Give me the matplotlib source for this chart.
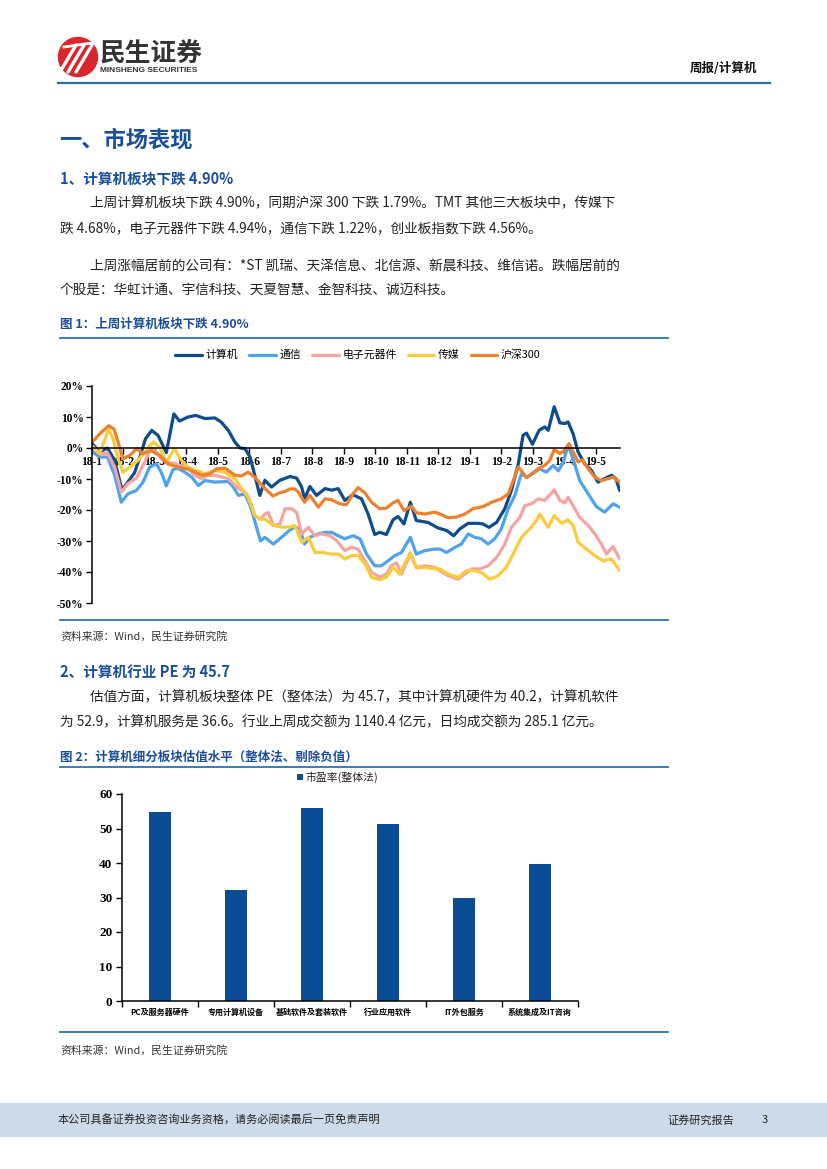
import matplotlib
matplotlib.use("Agg")
import matplotlib.pyplot as plt
from matplotlib.patches import Rectangle, Circle
from matplotlib.lines import Line2D

plt.rcParams['font.family'] = ['Noto Sans CJK SC', 'DejaVu Sans']
plt.rcParams['axes.unicode_minus'] = False

# ---------------- data ----------------
month_labels = ['18-1', '18-2', '18-3', '18-4', '18-5', '18-6', '18-7', '18-8', '18-9',
                '18-10', '18-11', '18-12', '19-1', '19-2', '19-3', '19-4', '19-5']
yticks_pct = [20, 10, 0, -10, -20, -30, -40, -50]

series_names = ['计算机', '通信', '电子元器件', '传媒', '沪深300']

jsj_x = [0.00,0.24,0.49,0.72,0.95,1.14,1.35,1.55,1.70,1.90,2.10,2.36,2.60,2.78,3.05,3.30,3.59,3.90,4.10,4.33,
         4.54,4.70,4.86,5.02,5.17,5.33,5.49,5.70,5.97,6.29,6.50,6.66,6.75,6.92,7.13,7.40,7.61,7.82,8.03,8.29,
         8.56,8.77,8.98,9.14,9.35,9.56,9.72,9.91,10.11,10.30,10.67,10.99,11.26,11.49,11.68,11.95,12.26,12.42,
         12.61,12.85,13.11,13.32,13.54,13.69,13.80,13.99,14.20,14.38,14.49,14.68,14.86,15.02,15.12,15.28,15.44,
         15.65,15.86,16.07,16.28,16.50,16.64,16.76]
jsj_y = [1.5,-1.3,0.0,-4.0,-13.5,-11.0,-8.0,-2.0,3.0,5.7,4.0,-1.5,11.0,8.7,10.0,10.5,9.5,9.7,8.4,5.7,
         1.9,0.0,-0.2,-2.9,-8.8,-15.3,-10.4,-12.6,-10.4,-9.2,-9.7,-12.6,-16.4,-12.4,-15.3,-13.1,-13.6,-13.1,-16.9,-15.1,
         -16.4,-21.3,-27.9,-27.2,-27.9,-23.2,-22.1,-24.5,-17.5,-23.4,-24.0,-25.8,-26.6,-28.3,-26.1,-24.3,-24.3,-24.5,
         -25.6,-24.0,-19.6,-13.7,-5.1,4.1,4.8,1.2,5.7,6.8,5.7,13.3,8.1,7.9,8.4,4.6,-1.3,
         -5.1,-7.2,-11.0,-9.9,-8.8,-9.9,-13.7]

tx_x = [0.03,0.24,0.49,0.72,0.93,1.14,1.41,1.62,1.83,2.04,2.20,2.36,2.57,2.73,2.95,3.17,3.38,3.59,3.90,4.33,
        4.49,4.65,4.86,5.02,5.12,5.35,5.49,5.76,6.02,6.29,6.44,6.60,6.75,6.92,7.19,7.40,7.61,7.82,8.03,8.29,
        8.51,8.72,8.98,9.19,9.40,9.62,9.83,10.11,10.30,10.57,10.89,11.05,11.26,11.52,11.73,11.95,12.15,12.37,
        12.58,12.79,13.00,13.22,13.43,13.64,13.82,14.00,14.22,14.43,14.65,14.81,14.97,15.12,15.28,15.49,15.76,
        16.02,16.28,16.55,16.76]
tx_y = [-1.3,-2.9,-2.9,-8.8,-17.5,-14.8,-13.7,-11.0,-6.2,-5.1,-7.8,-12.2,-7.0,-6.5,-7.8,-9.4,-12.1,-10.5,-11.0,-10.8,
        -12.6,-15.3,-14.8,-18.5,-21.8,-30.0,-28.8,-31.0,-28.8,-26.4,-25.5,-26.0,-31.0,-28.8,-27.7,-27.2,-27.2,-28.3,-29.3,-28.3,
        -29.3,-34.2,-38.0,-38.0,-36.4,-34.7,-33.7,-28.8,-34.2,-33.1,-32.6,-32.6,-33.7,-32.1,-31.0,-27.7,-28.8,-29.3,
        -31.0,-29.3,-26.1,-19.6,-15.3,-8.3,-9.4,-8.3,-6.7,-7.8,-5.6,-7.4,-4.5,0.9,-3.5,-10.5,-14.8,
        -18.9,-20.7,-18.0,-19.1]

dz_x = [0.03,0.30,0.49,0.72,0.93,1.14,1.41,1.67,1.88,2.04,2.25,2.41,2.68,3.05,3.27,3.48,3.69,3.90,4.33,4.60,
        4.75,4.91,5.07,5.17,5.35,5.49,5.60,5.76,5.97,6.13,6.34,6.50,6.66,6.87,7.08,7.29,7.56,7.77,8.03,8.24,
        8.45,8.67,8.88,9.14,9.35,9.51,9.67,9.83,10.11,10.30,10.57,10.89,11.05,11.31,11.63,11.84,12.05,12.32,
        12.58,12.85,13.11,13.32,13.59,13.75,13.96,14.17,14.38,14.68,14.86,15.02,15.12,15.28,15.49,15.76,15.97,
        16.18,16.34,16.55,16.76]
dz_y = [0.3,-2.2,-1.5,-6.2,-14.2,-11.5,-9.7,-4.6,0.0,-1.3,-4.0,-4.6,-5.1,-6.7,-8.8,-9.9,-8.8,-8.8,-9.9,-12.6,
        -13.7,-14.8,-18.5,-21.8,-23.0,-21.3,-20.8,-25.0,-24.5,-19.6,-19.6,-20.8,-27.7,-25.6,-28.3,-27.7,-28.3,-29.9,-33.1,-32.0,
        -32.6,-36.4,-40.1,-41.7,-40.7,-38.0,-37.0,-40.7,-34.2,-38.5,-38.0,-38.5,-39.6,-41.2,-42.3,-40.7,-39.0,-39.0,
        -38.0,-35.3,-31.0,-25.6,-22.4,-18.6,-18.0,-16.4,-16.9,-13.5,-16.9,-17.7,-15.9,-18.6,-22.4,-25.0,-27.7,
        -31.0,-34.2,-31.8,-35.8]

cm_x = [0.03,0.24,0.53,0.67,0.83,0.98,1.20,1.46,1.67,1.94,2.15,2.36,2.62,2.84,3.05,3.27,3.59,3.90,4.22,4.54,
        4.75,4.96,5.17,5.35,5.49,5.76,6.02,6.29,6.44,6.66,6.87,7.08,7.35,7.56,7.82,8.03,8.24,8.45,8.67,8.88,
        9.14,9.35,9.56,9.77,10.11,10.30,10.57,10.89,11.05,11.31,11.63,11.89,12.10,12.37,12.63,12.90,13.16,13.43,
        13.64,13.90,14.12,14.22,14.49,14.68,14.91,15.12,15.28,15.44,15.70,15.97,16.23,16.50,16.76]
cm_y = [0.5,-1.8,6.1,2.9,-3.5,-7.8,-6.2,-4.0,-1.3,1.9,0.3,-4.6,-0.2,-4.0,-6.2,-7.2,-8.3,-7.2,-7.8,-9.9,
        -13.1,-15.8,-21.8,-23.0,-22.9,-25.0,-25.5,-25.5,-25.0,-30.4,-28.8,-33.7,-33.7,-34.2,-34.2,-35.8,-34.7,-34.7,-37.4,-41.7,
        -42.5,-41.7,-38.5,-40.7,-33.7,-38.7,-38.5,-39.0,-39.0,-40.7,-41.7,-39.6,-39.4,-40.2,-42.3,-41.2,-38.5,-33.1,
        -28.8,-26.1,-23.4,-21.3,-25.6,-21.8,-24.3,-23.2,-25.0,-30.4,-32.6,-34.7,-36.4,-35.8,-39.6]

hs_x = [0.03,0.30,0.53,0.70,0.83,0.98,1.20,1.41,1.62,1.88,2.15,2.41,2.73,3.05,3.27,3.48,3.75,3.96,4.22,4.54,
        4.75,4.96,5.17,5.44,5.75,5.95,6.13,6.29,6.44,6.55,6.75,6.92,7.19,7.40,7.61,7.87,8.08,8.29,8.45,8.67,
        8.88,9.14,9.35,9.56,9.72,9.91,10.14,10.30,10.57,10.89,11.05,11.31,11.57,11.84,12.10,12.42,12.69,13.00,
        13.22,13.38,13.54,13.64,13.80,13.96,14.17,14.38,14.54,14.68,14.86,15.00,15.15,15.28,15.44,15.58,15.76,
        15.97,16.18,16.39,16.55,16.76]
hs_y = [2.2,5.1,7.2,6.1,1.9,-3.5,-2.4,-0.2,-1.8,-0.8,-2.4,-5.1,-6.2,-6.8,-7.8,-8.8,-8.3,-6.7,-6.5,-8.8,
        -9.0,-7.8,-9.4,-12.6,-15.5,-14.5,-14.0,-13.2,-13.2,-14.2,-17.5,-15.3,-19.1,-16.4,-16.7,-18.0,-18.3,-14.8,-12.8,-14.5,
        -17.5,-19.6,-19.4,-17.7,-16.9,-20.2,-18.8,-20.9,-21.3,-20.7,-21.3,-22.5,-22.3,-21.3,-19.6,-18.9,-17.5,-16.4,
        -14.8,-10.5,-6.1,-7.4,-9.6,-8.3,-6.7,-5.6,-4.0,-0.5,-1.8,-0.8,1.4,-1.3,-4.5,-3.8,-6.7,
        -9.4,-10.5,-9.9,-9.4,-11.0]

pe_categories = ['PC及服务器硬件', '专用计算机设备', '基础软件及套装软件', '行业应用软件', 'IT外包服务', '系统集成及IT咨询']
pe_values = [54.9, 32.1, 55.9, 51.2, 29.9, 39.8]
pe_yticks = [0, 10, 20, 30, 40, 50, 60]

# ---------------- styles ----------------
W, H = 827, 1169
BLUE_T = '#1B4F9B'
RULE = '#2E6FB5'
series_colors = ['#0F4C8C', '#4FA3EC', '#F5A4A2', '#FBCB3A', '#F0802C']
BAR_C = '#0B4D94'
SERIF = 'Liberation Serif'

fig = plt.figure(figsize=(W / 100, H / 100), dpi=100)
bg = fig.add_axes([0, 0, 1, 1])
bg.set_xlim(0, W)
bg.set_ylim(H, 0)
bg.axis('off')


def T(x, y, s, size=10, weight='normal', color='#222222', ha='left', **kw):
    bg.text(x, y, s, fontsize=size, fontweight=weight, color=color, ha=ha, va='center', **kw)


def rule(y, x0=60, x1=668, color=RULE, lw=1.3):
    bg.add_line(Line2D([x0, x1], [y, y], color=color, lw=lw))


# ---------------- header ----------------
bg.add_patch(Circle((78, 57), 19.5, color='#D9262C'))
for dx in (-8, 0, 8):
    bg.add_line(Line2D([68 + dx, 84 + dx], [72, 45], color='white', lw=2.4, solid_capstyle='round'))
bg.add_line(Line2D([64, 92], [47, 43], color='white', lw=2.0))
T(100, 53, '民生证券', size=18.5, weight='bold', color='#333333')
T(100, 71, 'MINSHENG SECURITIES', size=6, weight='bold', color='#333333',
  family=['Liberation Sans', 'DejaVu Sans'])
T(757, 68, '周报/计算机', size=9, weight='bold', color='#111111', ha='right')
rule(83, 58, 770, color='#2D6AAE', lw=1.6)

# ---------------- section text ----------------
BODY = 9.85
T(59, 140, '一、市场表现', size=16, weight='bold', color=BLUE_T)
T(60, 178, '1、计算机板块下跌 4.90%', size=10.5, weight='bold', color=BLUE_T)
T(90, 203, '上周计算机板块下跌 4.90%，同期沪深 300 下跌 1.79%。TMT 其他三大板块中，传媒下', size=BODY)
T(60, 228, '跌 4.68%，电子元器件下跌 4.94%，通信下跌 1.22%，创业板指数下跌 4.56%。', size=BODY)
T(90, 266, '上周涨幅居前的公司有：*ST 凯瑞、天泽信息、北信源、新晨科技、维信诺。跌幅居前的', size=BODY)
T(60, 290, '个股是：华虹计通、宇信科技、天夏智慧、金智科技、诚迈科技。', size=BODY)

T(60, 324, '图 1：上周计算机板块下跌 4.90%', size=9, weight='bold', color=BLUE_T)
rule(338)
rule(620)
T(60, 636, '资料来源：Wind，民生证券研究院', size=7.8, color='#333333')

T(60, 672, '2、计算机行业 PE 为 45.7', size=10.5, weight='bold', color=BLUE_T)
T(90, 697, '估值方面，计算机板块整体 PE（整体法）为 45.7，其中计算机硬件为 40.2，计算机软件', size=BODY)
T(60, 721, '为 52.9，计算机服务是 36.6。行业上周成交额为 1140.4 亿元，日均成交额为 285.1 亿元。', size=BODY)

T(60, 757, '图 2：计算机细分板块估值水平（整体法、剔除负值）', size=9, weight='bold', color=BLUE_T)
rule(767)
rule(1032)
T(60, 1050, '资料来源：Wind，民生证券研究院', size=7.8, color='#333333')

# ---------------- footer ----------------
bg.add_patch(Rectangle((0, 1103), W, 34, color='#CDDAEA', lw=0))
T(58, 1120, '本公司具备证券投资咨询业务资格，请务必阅读最后一页免责声明', size=8, color='#222222')
T(667, 1120, '证券研究报告', size=8, color='#222222')
T(762, 1120, '3', size=8, color='#222222')

# ---------------- line chart ----------------
ax1 = fig.add_axes([92 / W, 1 - 603 / H, (620 - 92) / W, (603 - 386) / H])
xs = [jsj_x, tx_x, dz_x, cm_x, hs_x]
ys = [jsj_y, tx_y, dz_y, cm_y, hs_y]
handles = []
for x, y, c, n in zip(xs, ys, series_colors, series_names):
    h, = ax1.plot(x, y, color=c, lw=2.3, label=n, solid_joinstyle='round', solid_capstyle='round')
    handles.append(h)
ax1.set_xlim(0, 16.77)
ax1.set_ylim(-50, 20)
ax1.set_axisbelow(True)
for s in ('top', 'right'):
    ax1.spines[s].set_visible(False)
ax1.spines['bottom'].set_position(('data', 0))
ax1.spines['left'].set_linewidth(1.1)
ax1.spines['bottom'].set_linewidth(1.1)
ax1.set_yticks(yticks_pct)
ax1.set_yticklabels([f'{v}%' for v in yticks_pct])
ax1.set_xticks(range(len(month_labels)))
ax1.set_xticklabels(month_labels)
ax1.tick_params(axis='both', direction='out', length=4, width=1, pad=2)
for lab in ax1.get_xticklabels() + ax1.get_yticklabels():
    lab.set_fontfamily(SERIF)
    lab.set_fontweight('bold')
    lab.set_fontsize(8.3)
ax1.patch.set_alpha(0)

bg.legend(handles=handles, loc='center', bbox_to_anchor=(358, 355), bbox_transform=bg.transData,
          ncol=5, frameon=False, fontsize=7.8, handlelength=2.45, handletextpad=0.35,
          columnspacing=1.0, borderaxespad=0)

# ---------------- bar chart ----------------
ax2 = fig.add_axes([122 / W, 1 - 1001 / H, (578 - 122) / W, (1001 - 794) / H])
pos = list(range(len(pe_categories)))
ax2.bar(pos, pe_values, width=0.3, color=BAR_C)
ax2.set_xlim(-0.5, len(pe_categories) - 0.5)
ax2.set_ylim(0, 60)
for s in ('top', 'right'):
    ax2.spines[s].set_visible(False)
ax2.spines['left'].set_linewidth(1.1)
ax2.spines['bottom'].set_linewidth(1.1)
ax2.set_yticks(pe_yticks)
ax2.set_xticks(pos)
ax2.set_xticklabels(pe_categories, fontsize=5.8, fontweight='bold', va='center')
ax2.set_xticks([p - 0.5 for p in pos] + [pos[-1] + 0.5], minor=True)
ax2.tick_params(axis='x', which='major', length=0, pad=8)
ax2.tick_params(axis='x', which='minor', length=4, width=1, direction='out')
ax2.tick_params(axis='y', length=4, width=1, direction='out', pad=3)
for lab in ax2.get_yticklabels():
    lab.set_fontfamily(SERIF)
    lab.set_fontweight('bold')
    lab.set_fontsize(9.5)
ax2.patch.set_alpha(0)

bg.add_patch(Rectangle((297, 774), 6, 6, color=BAR_C, lw=0))
T(306, 777, '市盈率(整体法)', size=7.8, color='#222222')

fig.savefig('out.png', dpi=100)
